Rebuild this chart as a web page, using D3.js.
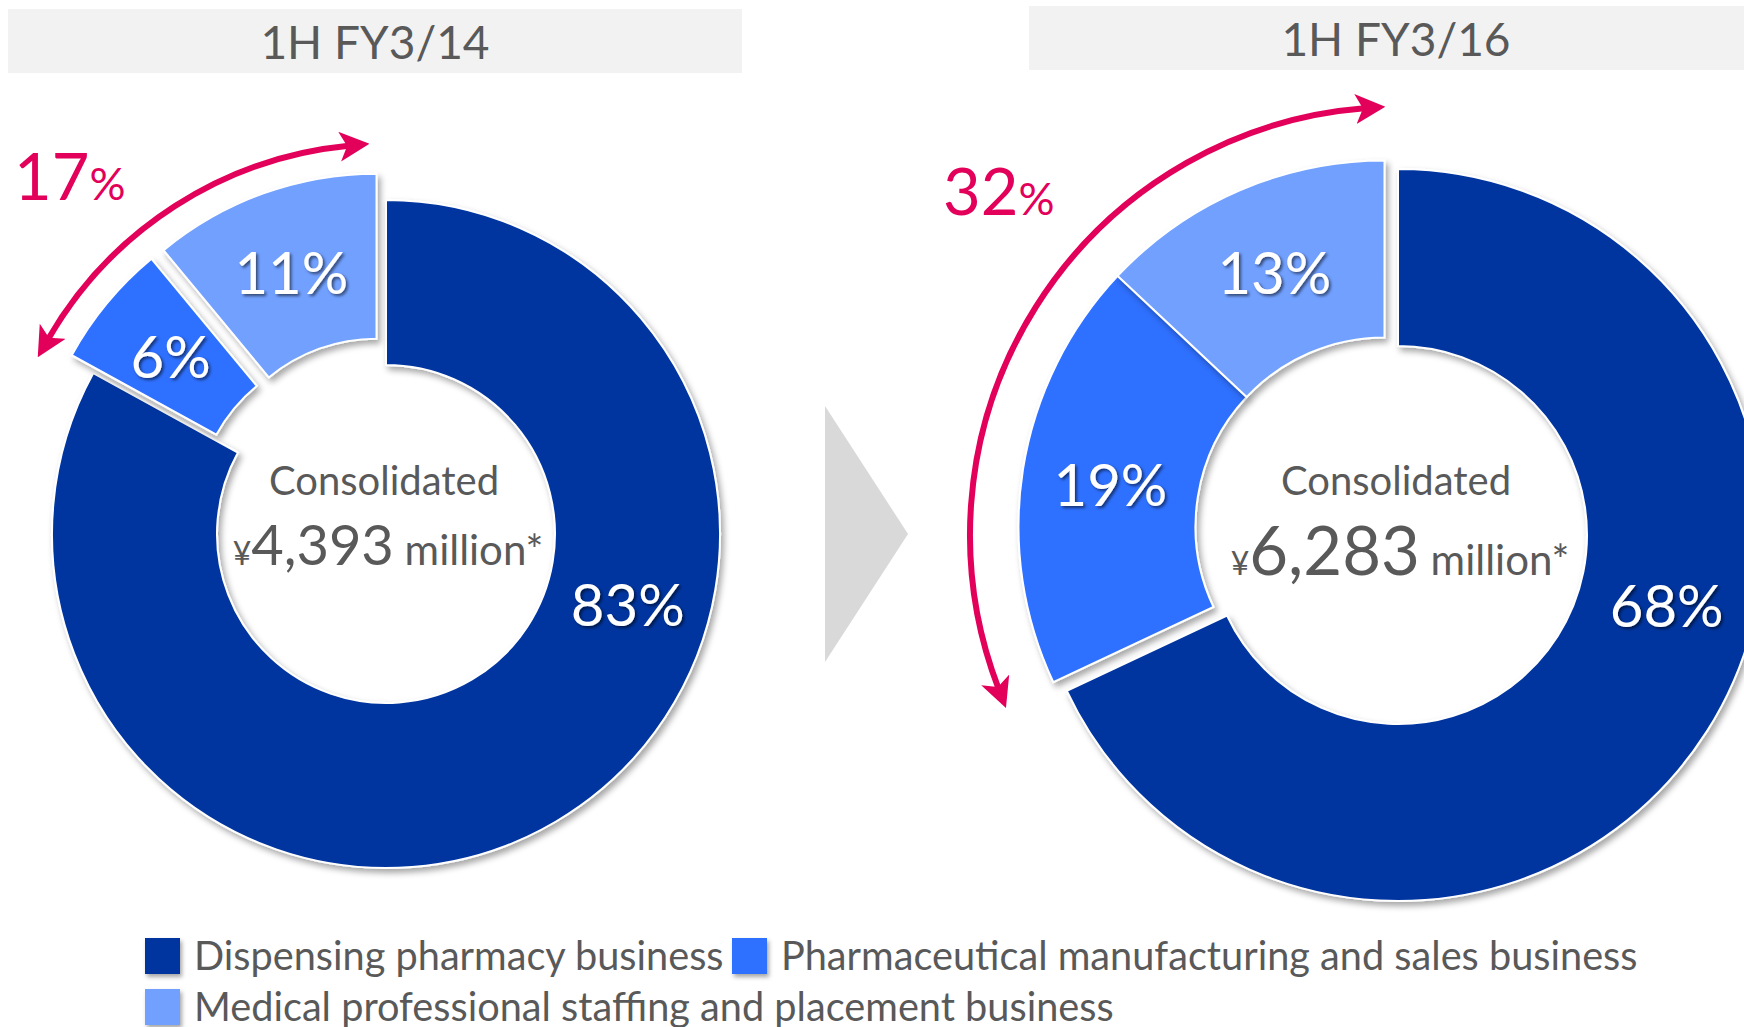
<!DOCTYPE html>
<html>
<head>
<meta charset="utf-8">
<script src="https://cdn.jsdelivr.net/npm/d3@7"></script>
<style>
  body { margin: 0; background: #fff; }
  svg { display: block; font-family: Lato, "Open Sans", sans-serif; }
</style>
</head>
<body>
<svg id="canvas" width="1744" height="1027"></svg>
<script>
// ************************************************************************************** //
// Data

var segments = ['Dispensing pharmacy business', 'Pharmaceutical manufacturing and sales business', 'Medical professional staffing and placement business'];
var seg_colors = ['#0035A0', '#2F70FF', '#71A0FF'];
var periods = ['1H FY3/14', '1H FY3/16'];
var share_fy14 = [83, 6, 11];
var share_fy16 = [68, 19, 13];
var other_share = [17, 32];
var consolidated = ['4,393', '6,283'];

// ************************************************************************************** //
// Layout

var svg = d3.select('#canvas');

var charts = [
  { shares: share_fy14, cx: 386, cy: 534, R: 334, r: 169, explode: 'each', off: 28, bigAngle: 106,
    box: [8, 9, 734, 64], titleY: 59, titleX: 375,
    arcR: 390, arcA: [-60, -5.5], pctX: 14, pctY: 200,
    numSize: 56, centerY: [495, 565] },
  { shares: share_fy16, cx: 1398, cy: 535, R: 366, r: 189, explode: 'group', off: 16, bigAngle: 104.5,
    box: [1029, 6, 715, 64], titleY: 56, titleX: 1396,
    arcR: 428, arcA: [-111, -4.5], pctX: 943, pctY: 215,
    numSize: 67, centerY: [495, 575] }
];

var rad = Math.PI/180;
var gray_txt = '#595959';
var pink = '#E2005A';

// Filters
var defs = svg.append('defs');
var fs = defs.append('filter').attr('id', 'sliceShadow').attr('x', '-20%').attr('y', '-20%').attr('width', '140%').attr('height', '140%');
fs.append('feDropShadow').attr('dx', 3).attr('dy', 4).attr('stdDeviation', 3).attr('flood-color', '#000').attr('flood-opacity', 0.35);
var ft = defs.append('filter').attr('id', 'textShadow').attr('x', '-20%').attr('y', '-20%').attr('width', '140%').attr('height', '140%');
ft.append('feDropShadow').attr('dx', 2).attr('dy', 2).attr('stdDeviation', 1.5).attr('flood-color', '#000').attr('flood-opacity', 0.55);
var fl = defs.append('filter').attr('id', 'legShadow').attr('x', '-30%').attr('y', '-30%').attr('width', '160%').attr('height', '160%');
fl.append('feDropShadow').attr('dx', 2).attr('dy', 3).attr('stdDeviation', 2).attr('flood-color', '#000').attr('flood-opacity', 0.35);

// Arrowhead marker
var mk = defs.append('marker').attr('id', 'arrowHead').attr('viewBox', '0 0 10 10').attr('refX', 3).attr('refY', 5)
  .attr('markerWidth', 5).attr('markerHeight', 5).attr('orient', 'auto-start-reverse').attr('markerUnits', 'strokeWidth');
mk.append('path').attr('d', 'M0,0 L10,5 L0,10 L2.5,5 Z').attr('fill', pink);

// ************************************************************************************** //
// Donuts

charts.forEach(function(c, ci){
  var g = svg.append('g');

  // header box
  g.append('rect').attr('x', c.box[0]).attr('y', c.box[1]).attr('width', c.box[2]).attr('height', c.box[3]).attr('fill', '#F2F2F2');
  g.append('text').attr('x', c.titleX).attr('y', c.titleY).attr('text-anchor', 'middle')
    .attr('font-size', 46).attr('fill', gray_txt).text(periods[ci]);

  var pie = d3.pie().sort(null).value(function(d){ return d; });
  var arcs = pie(c.shares);
  var arc = d3.arc().innerRadius(c.r).outerRadius(c.R);

  // group explode direction
  var gMid = (arcs[1].startAngle + arcs[arcs.length-1].endAngle)/2;

  var dg = g.append('g').attr('transform', 'translate(' + c.cx + ',' + c.cy + ')');
  arcs.forEach(function(a, i){
    var dx = 0, dy = 0;
    if(i > 0){
      var m = c.explode == 'each' ? (a.startAngle + a.endAngle)/2 : gMid;
      dx = Math.sin(m)*c.off; dy = -Math.cos(m)*c.off;
    }
    a.dx = dx; a.dy = dy;
    dg.append('path').attr('d', arc(a)).attr('transform', 'translate(' + dx + ',' + dy + ')')
      .attr('fill', seg_colors[i]).attr('stroke', '#fff').attr('stroke-width', 2)
      .attr('filter', 'url(#sliceShadow)');
  });

  // slice labels
  var lr = (c.R + c.r)/2;
  arcs.forEach(function(a, i){
    var px, py;
    if(i == 0){
      px = Math.sin(c.bigAngle*rad)*lr; py = -Math.cos(c.bigAngle*rad)*lr;
    } else {
      var p = arc.centroid(a); px = p[0] + a.dx; py = p[1] + a.dy;
    }
    dg.append('text').attr('x', px).attr('y', py).attr('text-anchor', 'middle').attr('dominant-baseline', 'central')
      .attr('font-size', 58).attr('fill', '#fff').attr('filter', 'url(#textShadow)').text(c.shares[i] + '%');
  });

  // center text
  g.append('text').attr('x', c.cx - 2).attr('y', c.centerY[0]).attr('text-anchor', 'middle')
    .attr('font-size', 40).attr('fill', gray_txt).text('Consolidated');
  var t = g.append('text').attr('x', c.cx + 2).attr('y', c.centerY[1]).attr('text-anchor', 'middle').attr('fill', gray_txt);
  t.append('tspan').attr('font-size', 32).text('¥');
  t.append('tspan').attr('font-size', c.numSize).text(consolidated[ci]);
  t.append('tspan').attr('font-size', 42).text(' million*');

  // pink arc arrow
  var p = d3.path();
  p.arc(c.cx, c.cy, c.arcR, (c.arcA[0] - 90)*rad, (c.arcA[1] - 90)*rad, false);
  g.append('path').attr('d', p.toString()).attr('fill', 'none').attr('stroke', pink).attr('stroke-width', 6)
    .attr('marker-start', 'url(#arrowHead)').attr('marker-end', 'url(#arrowHead)');

  var pt = g.append('text').attr('x', c.pctX).attr('y', c.pctY).attr('fill', pink);
  pt.append('tspan').attr('font-size', 65).text(other_share[ci]);
  pt.append('tspan').attr('font-size', 45).text('%');
});

// ************************************************************************************** //
// Transition arrow

svg.append('path').attr('d', d3.line()([[825, 406], [908, 534], [825, 662]]) + 'Z').attr('fill', '#D9D9D9');

// ************************************************************************************** //
// Legend

var legend = [
  { x: 145, y: 938 },
  { x: 732, y: 938 },
  { x: 145, y: 989 }
];
segments.forEach(function(s, i){
  var l = legend[i];
  svg.append('rect').attr('x', l.x).attr('y', l.y).attr('width', 35).attr('height', 36)
    .attr('fill', seg_colors[i]).attr('filter', 'url(#legShadow)');
  svg.append('text').attr('x', l.x + 49).attr('y', l.y + 32).attr('font-size', 39.7).attr('fill', gray_txt).text(s);
});
</script>
</body>
</html>
